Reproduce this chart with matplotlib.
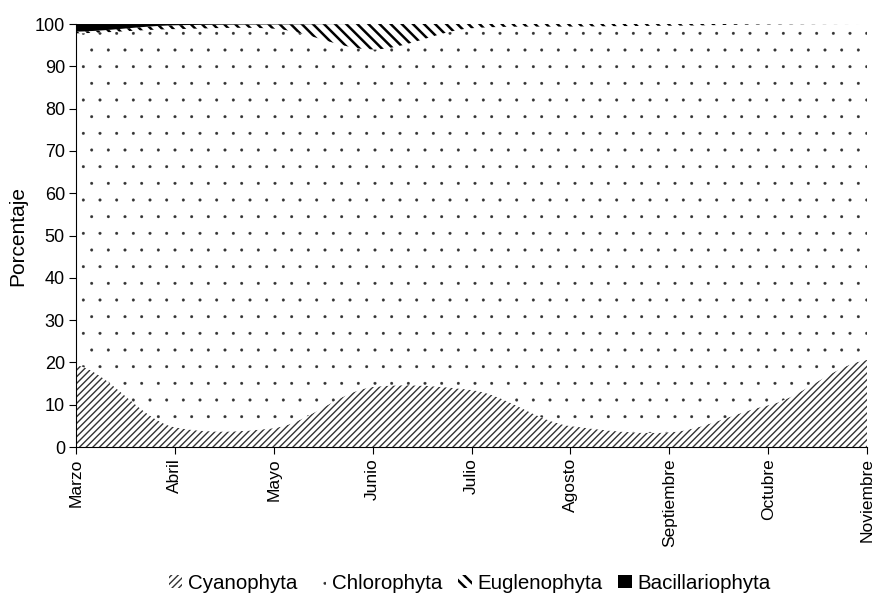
import numpy as np
import matplotlib
matplotlib.use("Agg")
import matplotlib.pyplot as plt
from matplotlib.patches import Patch
from matplotlib import hatch as mhatch

plt.rcParams['font.family'] = ['Liberation Sans', 'DejaVu Sans']
mhatch.SmallFilledCircles.size = 0.08

months = ["Marzo", "Abril", "Mayo", "Junio", "Julio", "Agosto", "Septiembre", "Octubre", "Noviembre"]
cyanophyta = [19.4, 4.7, 4.5, 14.2, 13.5, 5.0, 3.5, 9.9, 20.6]
euglenophyta = [0.4, 0.9, 1.0, 6.0, 1.0, 0.6, 0.4, 0.1, 0.0]
bacillariophyta = [1.8, 0.3, 0.1, 0.0, 0.0, 0.0, 0.0, 0.0, 0.0]
chlorophyta = [100 - c - e - b for c, e, b in zip(cyanophyta, euglenophyta, bacillariophyta)]
names = ["Cyanophyta", "Chlorophyta", "Euglenophyta", "Bacillariophyta"]


def smooth(x, y, n=30, k=0.6):
    # Hermite (Catmull-Rom style) rendering of the series between the data points
    x = np.asarray(x, float); y = np.asarray(y, float)
    m = np.zeros_like(y)
    m[1:-1] = k * (y[2:] - y[:-2]) / 2.0
    m[0] = k * (y[1] - y[0]) / 2.0
    m[-1] = k * (y[-1] - y[-2]) / 2.0
    xs, ys = [], []
    t = np.linspace(0, 1, n, endpoint=False)
    h00 = 2 * t ** 3 - 3 * t ** 2 + 1
    h10 = t ** 3 - 2 * t ** 2 + t
    h01 = -2 * t ** 3 + 3 * t ** 2
    h11 = t ** 3 - t ** 2
    for i in range(len(x) - 1):
        yy = h00 * y[i] + h10 * m[i] + h01 * y[i + 1] + h11 * m[i + 1]
        xs.append(x[i] + (x[i + 1] - x[i]) * t); ys.append(yy)
    xs.append([x[-1]]); ys.append([y[-1]])
    return np.concatenate(xs), np.concatenate(ys)


def fix_hatch_lw(artist, lw):
    orig = artist.draw

    def draw(renderer, *a, **kw):
        with plt.rc_context({'hatch.linewidth': lw}):
            return orig(renderer, *a, **kw)
    artist.draw = draw
    if hasattr(artist, 'set_hatch_linewidth'):
        try:
            artist.set_hatch_linewidth(lw)
        except Exception:
            pass


fig = plt.figure(figsize=(8.75, 6.05), dpi=100)
ax = fig.add_axes([0.0869, 0.261, 0.904, 0.6993])

xpos = np.arange(len(months))
series = [cyanophyta, chlorophyta, euglenophyta, bacillariophyta]
styles = [dict(hatch='/////', ec='#333333', lw=1.0),
          dict(hatch='.', ec='#333333', lw=0.2),
          dict(hatch='\\\\\\', ec='black', lw=1.8),
          dict(hatch=None, ec='black', lw=0)]
cum = np.zeros(len(months))
for vals, st, name in zip(series, styles, names):
    upper = cum + np.array(vals)
    xs, lo = smooth(xpos, cum)
    _, up = smooth(xpos, upper)
    with plt.rc_context({'hatch.linewidth': st['lw']}):
        if st['hatch'] is None:
            art = ax.fill_between(xs, lo, up, facecolor='black', edgecolor='none', linewidth=0, label=name)
        else:
            art = ax.fill_between(xs, lo, up, facecolor='white', edgecolor=st['ec'], hatch=st['hatch'],
                                  linewidth=0, label=name)
    if st['hatch'] is not None:
        fix_hatch_lw(art, st['lw'])
    cum = upper

ax.set_xlim(0, len(months) - 1)
ax.set_ylim(0, 100)
ax.set_yticks(np.arange(0, 101, 10))
ax.set_xticks(xpos)
ax.set_xticklabels(months, rotation=90, fontsize=12.5)
ax.tick_params(axis='y', labelsize=13, direction='out', length=5, pad=3)
ax.tick_params(axis='x', direction='out', length=5, pad=3)
ax.set_ylabel("Porcentaje", fontsize=15, labelpad=5)
for s in ['top', 'right']:
    ax.spines[s].set_visible(False)

handles = []
for st in styles:
    with plt.rc_context({'hatch.linewidth': st['lw']}):
        if st['hatch'] is None:
            p = Patch(facecolor='black', edgecolor='black', linewidth=0)
        else:
            p = Patch(facecolor='white', edgecolor=st['ec'], hatch=st['hatch'], linewidth=0)
    handles.append(p)
leg = fig.legend(handles, names, loc='center', bbox_to_anchor=(0.537, 0.036), ncol=4, frameon=False,
                 fontsize=14.8, handlelength=0.65, handleheight=0.65, handletextpad=0.3, columnspacing=0.75)
for h, st in zip(leg.legend_handles, styles):
    if st['hatch'] is not None:
        fix_hatch_lw(h, st['lw'])

fig.savefig("out.png", dpi=100)
